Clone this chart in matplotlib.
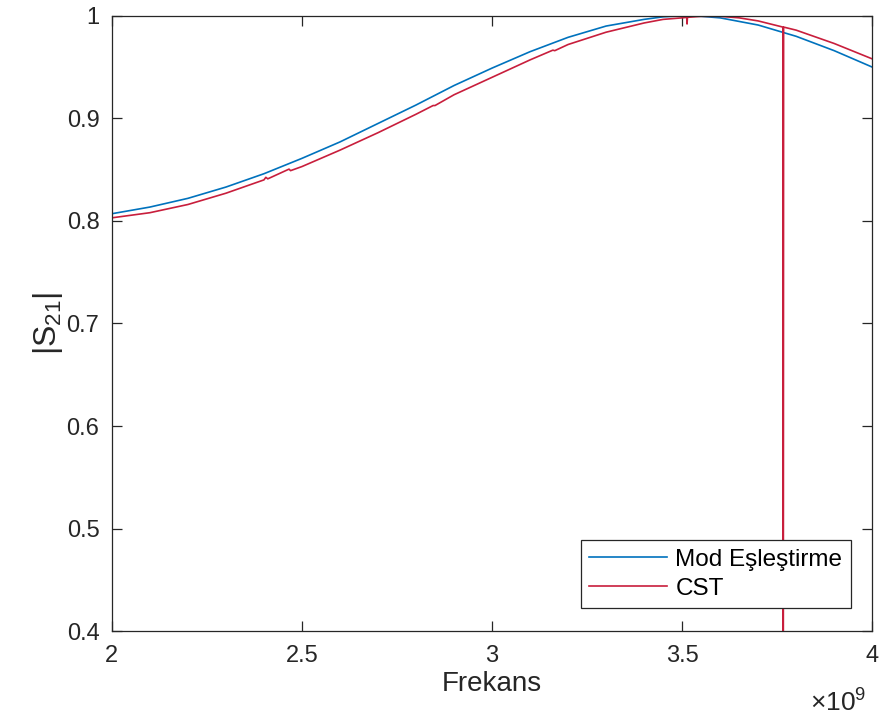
import matplotlib
matplotlib.use("Agg")
import matplotlib.pyplot as plt
from matplotlib.ticker import FuncFormatter

plt.rcParams['font.family'] = ['Liberation Sans', 'DejaVu Sans']
plt.rcParams['mathtext.default'] = 'regular'

# Frequencies in GHz (scaled to Hz when plotting)
freq_mod = [2.0, 2.1, 2.2, 2.3, 2.4, 2.5, 2.6, 2.7, 2.8, 2.9, 3.0,
            3.1, 3.2, 3.3, 3.4, 3.45, 3.5, 3.55, 3.6, 3.7, 3.8, 3.9, 4.0]
s21_mod = [0.807, 0.8135, 0.822, 0.833, 0.846, 0.861, 0.877, 0.895, 0.913, 0.932, 0.949,
           0.965, 0.979, 0.990, 0.9965, 0.9990, 1.000, 0.9995, 0.998, 0.991, 0.980, 0.966, 0.950]

freq_cst = [2.0, 2.1, 2.2, 2.3, 2.4, 2.405, 2.41, 2.466, 2.47, 2.5, 2.6, 2.7, 2.8, 2.845, 2.85,
            2.9, 3.0, 3.1, 3.16, 3.165, 3.2, 3.3, 3.4, 3.45, 3.5, 3.512, 3.513, 3.514, 3.55, 3.6,
            3.65, 3.7, 3.765, 3.766, 3.767, 3.8, 3.9, 4.0]
s21_cst = [0.803, 0.808, 0.816, 0.827, 0.840, 0.8425, 0.841, 0.8505, 0.849, 0.853, 0.869, 0.886, 0.904, 0.9125, 0.9125,
           0.923, 0.940, 0.957, 0.9665, 0.966, 0.972, 0.984, 0.993, 0.9965, 0.998, 0.9985, 0.992, 0.9985, 0.9995, 0.9995,
           0.998, 0.995, 0.989, 0.20, 0.989, 0.986, 0.973, 0.958]

labels = ['Mod Eşleştirme', 'CST']
colors = ['#0072BD', '#C81E3C']

fig = plt.figure(figsize=(8.81, 7.18), dpi=100)
ax = fig.add_axes([0.127, 0.121, 0.863, 0.857])

ax.plot([f * 1e9 for f in freq_mod], s21_mod, color=colors[0], lw=1.2, label=labels[0])
ax.plot([f * 1e9 for f in freq_cst], s21_cst, color=colors[1], lw=1.2, label=labels[1])

ax.set_xlim(2e9, 4e9)
ax.set_ylim(0.4, 1.0)
ax.set_xticks([2e9, 2.5e9, 3e9, 3.5e9, 4e9])
ax.xaxis.set_major_formatter(FuncFormatter(lambda v, p: f"{v/1e9:g}"))
ax.set_yticks([0.4, 0.5, 0.6, 0.7, 0.8, 0.9, 1.0])
ax.yaxis.set_major_formatter(FuncFormatter(lambda v, p: f"{v:g}"))

axc = '#262626'
for s in ax.spines.values():
    s.set_color(axc)
    s.set_linewidth(0.9)
ax.tick_params(direction='in', length=7, width=0.9, colors=axc, labelsize=17,
               top=True, right=True)
ax.tick_params(axis='x', pad=10)
ax.tick_params(axis='y', pad=9)
for lab in ax.get_xticklabels() + ax.get_yticklabels():
    lab.set_color(axc)

ax.set_xlabel('Frekans', fontsize=20, color=axc, labelpad=3)
ax.set_ylabel('|S$_{21}$|', fontsize=23, color=axc, labelpad=1)
fig.text(0.919, 0.002, r'$\times\mathregular{10^9}$', fontsize=19, color=axc, ha='left', va='bottom')

leg = ax.legend(loc='lower right', bbox_to_anchor=(0.972, 0.037), fontsize=17.5,
                fancybox=False, framealpha=1, edgecolor=axc, handlelength=3.2,
                handletextpad=0.35, borderpad=0.35, labelspacing=0.3, borderaxespad=0)
leg.get_frame().set_linewidth(0.9)

fig.savefig('out.png', dpi=100)
